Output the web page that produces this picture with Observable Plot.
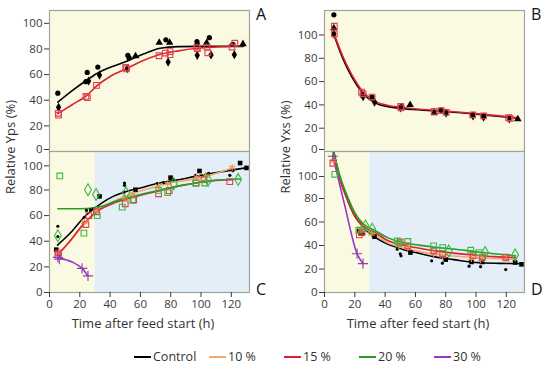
<!DOCTYPE html>
<html><head><meta charset="utf-8">
<script src="https://cdn.jsdelivr.net/npm/d3@7"></script>
<script src="https://cdn.jsdelivr.net/npm/@observablehq/plot@0.6"></script>
<style>
body{margin:0;background:#fff;font-family:"Open Sans",sans-serif;}
#fig{position:relative;width:550px;height:367px;overflow:hidden;background:#fff}
.abs{position:absolute;white-space:nowrap;color:#333}
.ylab{font-size:13px;transform:translate(-50%,-50%) rotate(-90deg);}
.xlab{font-size:13px;transform:translateX(-50%);}
.letter{font-size:16px;color:#111}
.leg{font-size:12.5px;display:flex;align-items:center;}
.leg span.sw{display:inline-block;width:17px;height:2px;margin-right:2px}
</style></head><body><div id="fig"></div>
<script>
// ---------- data ----------
const xTicks = [0, 20, 40, 60, 80, 100, 120];
const yTicks = [0, 20, 40, 60, 80, 100];
const phaseBounds = [0, 30, 132];
const seriesNames = ["Control", "10 %", "15 %", "20 %", "30 %"];
const panelLetters = ["A", "B", "C", "D"];
// replicate code: 1 circle, 2 diamond, 3 triangle, 4 square, 5 small dot
// Panel A (relative Yps, reference run)
const aControlPts = [[5.5,45.5,1],[6,34.5,2],[24.9,61.7,1],[24,54.5,1],[25.8,55,2],[31.9,65.9,1],[33,59.6,2],[51.7,75,1],[51.3,64.6,2],[52.5,73,1],[56.8,74.5,3],[72.4,84.9,3],[76.8,87.2,1],[79.3,84.9,3],[78.3,69.8,2],[97.3,85.7,1],[97.6,83.5,1],[97.5,75,2],[103.7,84.8,3],[105.5,88.8,1],[106.6,75.3,2],[121,83.5,1],[122,75.5,2],[127.7,83.9,3]];
const a15Pts = [[5.8,29.8],[6,28.3],[24,43],[25,42],[31,51.6],[50.3,65.6],[50.8,64.4],[72.3,74.7],[76.5,76.8],[79.5,78],[79.5,75.5],[97.3,81.5],[97.6,80.3],[104,81.5],[104.5,77],[120.5,81.5],[122.3,84.5]];
const aControlFit = [[5.5,38.5],[15,47.5],[25,56],[33,62],[42,66.5],[51,70.5],[62,76],[73,80.5],[85,81.8],[100,82],[128,82]];
const a15Fit = [[5.5,29.5],[15,36.5],[24.9,44],[31,51],[40,58.5],[50.8,64.6],[60,70],[71.7,75.3],[85,78.5],[97.6,80.5],[110,81.5],[128,82.5]];
// Panel B (relative Yxs, reference run)
const bControlPts = [[6.2,117.3,1],[6.2,106,3],[6.2,101,2],[25,48,1],[25.5,47,2],[31.4,46.7,1],[33,42.4,2],[50.2,37.5,2],[51,38.5,1],[56.5,40,3],[72.4,33,3],[77,35.5,1],[80.3,33,2],[97.8,31.5,1],[98,30.5,2],[105,30.6,1],[105,29.5,2],[122,29,1],[122,28,2],[127.6,27.9,3]];
const b15Pts = [[6.5,107.5],[6.5,101],[24.5,51],[25.5,49.5],[31.4,46.7],[50.2,38.7],[50.5,37.5],[72.4,34.4],[77,35],[80.3,33.5],[97.8,31.5],[105,30.5],[121.5,29],[122.5,28.5]];
const bControlFit = [[6,101],[12,80],[18,64],[25.3,50],[33.6,41.5],[42,38.5],[50.2,37],[65,35.5],[77.7,34.5],[100,32],[128,28.5]];
const b15Fit = [[6,102],[12,82],[18,66],[25.3,51.5],[33.6,43],[42,39.5],[50.2,38],[65,36],[77.7,35],[100,32.5],[128,29]];
// Panel C (relative Yps, all feeds)
const cControlPts = [[4.5,33.4,4],[5.5,51.7,5],[5.5,43.6,5],[23,58.7,5],[24.4,64,5],[27,64.5,5],[29,65,5],[33,75,4],[49.5,85.4,5],[49.5,83.6,5],[49,78.3,5],[56.7,80.2,4],[71,84.9,5],[75.5,85.7,5],[79.9,89.6,4],[82,88,5],[96.4,91.4,5],[99,94.8,4],[105,93,5],[119,91.4,5],[121,95,5],[125.8,101,4],[130,97.2,4]];
const c10Pts = [[6,31],[23,55],[31,64],[50,74],[55,77],[72,83],[78,85],[97,90],[103,91],[120.6,97.4]];
const c15Pts = [[5.5,29.5],[6,31],[24,53],[26,60],[31,63],[50,69.2],[55.6,72.3],[72,77],[79,79.5],[96.8,85.4],[102,88],[119,86.5]];
const c20Pts = [[6.8,90.9,4],[22.7,46.3,4],[31.5,60,4],[48,66.6,4],[55,71.8,4],[72,79.6,4],[78,78,4],[96.5,85.4,4],[102.5,85.4,4],[5.5,44.3,2],[25.4,80.2,2],[30.7,76.5,2],[50.5,77.8,2],[82,84.9,2],[104.7,87.6,2],[124.5,88.1,2]];
const c30Pts = [[5.5,27.4],[6.5,26],[21.5,18.8],[25.4,13]];
const cControlFit = [[5.3,37],[15,48],[22.8,58.7],[33.7,69.2],[42,75],[51.3,79],[60,81.5],[71,85],[85,88],[99.7,91.4],[115,94.5],[128.3,97]];
const c10Fit = [[6,30],[15,42],[22,52],[31.5,63],[42,71],[55.7,77.5],[67,81.5],[77.7,85],[90,87.5],[99.7,89.6],[110,93],[120.6,97.2]];
const c15Fit = [[5.5,29.5],[12,38],[22.8,54],[33.7,65],[42,69.5],[51.3,73],[62,76.5],[73,79.5],[85,83],[99.7,86],[110,87.5],[121,88]];
const c20Fit = [[5.5,65.3],[15,65.3],[25,65.5],[33.7,67],[42,70.5],[51.3,74],[62,77],[73,80],[85,83],[99.7,86],[112,87.8],[126,88.5]];
const c30Fit = [[5.5,27],[14.9,23.8],[21.5,18.8],[25.4,13]];
// Panel D (relative Yxs, all feeds)
const dControlPts = [[22.8,52.4,4],[24,51,4],[26,49.8,5],[33,47.5,4],[48,36.8,5],[50.5,31.2,5],[50,33,5],[56.7,34,4],[70.7,27,5],[77.8,25,5],[80,28,4],[95.4,22.4,5],[97,26,4],[103,22,5],[104,26,4],[119.6,19.5,5],[125.8,25.6,4],[130,24,4]];
const d10Pts = [[6,112],[24,53],[31,50],[49,40],[55,38],[72,33],[78,31],[97,29],[103,28],[120,28]];
const d15Pts = [[5.5,110],[24.4,51],[23,49],[50,43],[55,39.7],[72.2,35.4],[78,33],[98,31.3],[104.3,30.2],[119.6,30]];
const d20Pts = [[6.8,100.6,4],[22.7,53,4],[48,43.9,4],[49,42,4],[55,43.4,4],[72,39.7,4],[78,38.2,4],[96.5,36,4],[102,34,4],[27,56.6,2],[31.5,53.8,2],[82,35.4,2],[106,34,2],[125.8,32,2]];
const d30Pts = [[5.5,116],[21.5,33],[25.4,24.6]];
const dControlFit = [[6,121],[10,98],[15.4,78],[20,65],[25.4,55.8],[33.7,46.7],[42,41],[51.3,36.9],[62,33.5],[73,30.3],[85,28],[99.7,25.5],[115,24.8],[128,24.6]];
const d10Fit = [[6,118],[10,98],[15.4,79],[20,66],[25.4,56],[33.7,49],[42,42],[51.3,38.2],[62,35],[73,32.5],[85,31],[99.7,29.7],[112,29],[126,28.3]];
const d15Fit = [[6,117],[10,97],[15.4,79],[20,66],[25.4,56.5],[33.7,50.7],[42,44],[51.3,40.5],[62,37.8],[73,35.4],[85,33.5],[99.7,31.7],[112,30.5],[126,29.7]];
const d20Fit = [[6,120],[10,100],[15.4,81],[20,68],[25.4,58.6],[33.7,52.4],[42,46.5],[51.3,42.5],[62,40.3],[73,38.5],[85,37],[99.7,34.8],[112,33],[126,31.2]];
const d30Fit = [[5.5,116],[13.2,75],[21.5,33],[25.4,24.6]];

// ---------- styling ----------
const colors = {"Control":"#000000","10 %":"#f5a66b","15 %":"#e2202c","20 %":"#22a022","30 %":"#9a33c8"};
const pointColors = {"Control":"#000000","10 %":"#e8944e","15 %":"#e0404f","20 %":"#3cb83c","30 %":"#8c3cb0"};
const symbolOf = {1:"circle",2:"diamond",3:"triangle",4:"square",5:"circle"};
const rOf = {1:2.6,2:2.8,3:2.8,4:2.6,5:1.6};
const yellow = "#fafae3", blue = "#e4eef8";

const fig = document.getElementById("fig");
const X = d => d[0], Y = d => d[1];

function panel({ydom, split, xaxis, fits, points, top, left, height, mb}) {
  const marks = [];
  if (split) {
    const phases = [{x1: phaseBounds[0], x2: phaseBounds[1], f: yellow}, {x1: phaseBounds[1], x2: phaseBounds[2], f: blue}];
    marks.push(Plot.rect(phases, {x1: "x1", x2: "x2", y1: ydom[0], y2: ydom[1], fill: d => d.f}));
  } else {
    marks.push(Plot.rect([{x1: phaseBounds[0], x2: phaseBounds[2]}], {x1: "x1", x2: "x2", y1: ydom[0], y2: ydom[1], fill: yellow}));
  }
  for (const [name, data] of fits) {
    marks.push(Plot.line(data, {x: X, y: Y, stroke: colors[name], strokeWidth: 1.6, curve: "monotone-x", clip: true}));
  }
  for (const [name, data, hollowSym] of points) {
    const c = pointColors[name];
    if (name === "Control") {
      for (const rep of [1,2,3,4,5]) {
        const sub = data.filter(d => d[2] === rep);
        if (sub.length) marks.push(Plot.dot(sub, {x: X, y: Y, symbol: symbolOf[rep], r: rOf[rep], fill: c, stroke: "none", clip: true}));
      }
    } else if (name === "20 %") {
      for (const rep of [2,4]) {
        const sub = data.filter(d => d[2] === rep);
        marks.push(Plot.dot(sub, {x: X, y: Y, symbol: symbolOf[rep], r: rep === 2 ? 3.6 : 3.2, fill: "none", stroke: c, strokeWidth: 1.1, clip: true}));
      }
    } else {
      marks.push(Plot.dot(data, {x: X, y: Y, symbol: hollowSym, r: hollowSym === "square" ? 3.2 : 3.4, fill: "none", stroke: c, strokeWidth: 1.1, clip: true}));
    }
  }
  marks.push(Plot.frame({stroke: "#a3a39a", strokeWidth: 1.2}));
  const axisOpts = {tickSize: 5, tickPadding: 2, label: null, tickFormat: d => String(d)};
  if (top === 0) {
    // bottom label of the upper panels nudged up so it clears the lower panel's top label
    marks.push(Plot.axisY({...axisOpts, ticks: yTicks.filter(t => t > yTicks[0])}));
    marks.push(Plot.axisY({...axisOpts, ticks: [yTicks[0]], dy: -2}));
  } else {
    const last = yTicks[yTicks.length - 1];
    marks.push(Plot.axisY({...axisOpts, ticks: yTicks.filter(t => t < last)}));
    marks.push(Plot.axisY({...axisOpts, ticks: [last], dy: 1.5}));
  }
  if (xaxis) marks.push(Plot.axisX({ticks: xTicks, tickSize: 5, tickPadding: 2, label: null, tickFormat: d => String(d)}));
  const p = Plot.plot({
    width: 275, height, marginLeft: 49, marginRight: 26, marginTop: top === 0 ? 10 : 0, marginBottom: mb,
    x: {domain: [phaseBounds[0], phaseBounds[2]], axis: xaxis ? undefined : null},
    y: {domain: ydom},
    style: {fontFamily: "'Open Sans', sans-serif", fontSize: "11.5px", color: "#3a3a3a", background: "transparent", overflow: "visible"},
    marks
  });
  p.style.position = "absolute";
  p.style.left = left + "px";
  p.style.top = top + "px";
  fig.appendChild(p);
}

panel({ydom: [0, 110], split: false, xaxis: false, top: 0, left: 0, height: 155, mb: 4,
  fits: [["Control", aControlFit], ["15 %", a15Fit]],
  points: [["Control", aControlPts], ["15 %", a15Pts, "square"]]});
panel({ydom: [0, 121], split: false, xaxis: false, top: 0, left: 275, height: 155, mb: 4,
  fits: [["Control", bControlFit], ["15 %", b15Fit]],
  points: [["Control", bControlPts], ["15 %", b15Pts, "square"]]});
panel({ydom: [0, 110], split: true, xaxis: true, top: 151, left: 0, height: 185, mb: 44,
  fits: [["Control", cControlFit], ["10 %", c10Fit], ["15 %", c15Fit], ["20 %", c20Fit], ["30 %", c30Fit]],
  points: [["Control", cControlPts], ["10 %", c10Pts, "asterisk"], ["15 %", c15Pts, "square"], ["20 %", c20Pts], ["30 %", c30Pts, "plus"]]});
panel({ydom: [0, 120], split: true, xaxis: true, top: 151, left: 275, height: 185, mb: 44,
  fits: [["Control", dControlFit], ["10 %", d10Fit], ["15 %", d15Fit], ["20 %", d20Fit], ["30 %", d30Fit]],
  points: [["Control", dControlPts], ["10 %", d10Pts, "asterisk"], ["15 %", d15Pts, "square"], ["20 %", d20Pts], ["30 %", d30Pts, "plus"]]});

// text: letters, axis titles, legend
function addText(cls, txt, x, y) {
  const el = document.createElement("div");
  el.className = "abs " + cls;
  el.textContent = txt;
  el.style.left = x + "px"; el.style.top = y + "px";
  fig.appendChild(el);
  return el;
}
const letterPos = [[256, 3], [531, 3], [256, 278], [531, 278]];
panelLetters.forEach((l, i) => addText("letter", l, letterPos[i][0], letterPos[i][1]));
addText("ylab", "Relative Yps (%)", 10, 147);
addText("ylab", "Relative Yxs (%)", 285, 147);
addText("xlab", "Time after feed start (h)", 143, 314);
addText("xlab", "Time after feed start (h)", 418, 314);
seriesNames.forEach((n, i) => {
  const el = addText("leg", "", 134 + i * 75, 348);
  const sw = document.createElement("span");
  sw.className = "sw"; sw.style.background = colors[n];
  el.appendChild(sw);
  el.appendChild(document.createTextNode(n));
});
</script></body></html>
